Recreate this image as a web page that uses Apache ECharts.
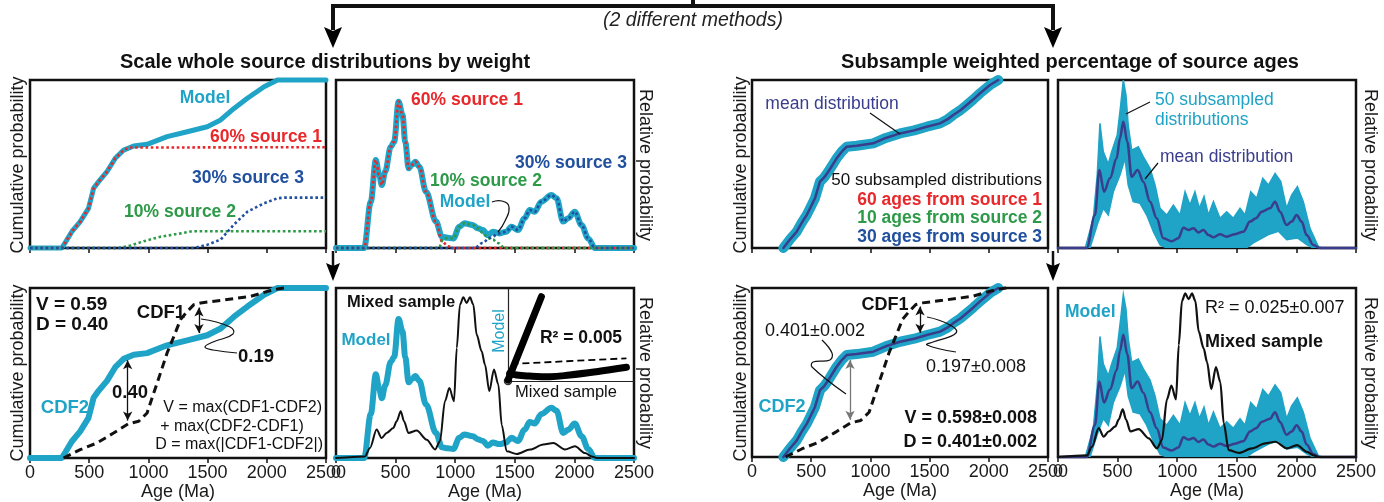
<!DOCTYPE html>
<html>
<head>
<meta charset="utf-8">
<script src="https://cdn.jsdelivr.net/npm/echarts@6/dist/echarts.min.js"></script>
<style>
html,body{margin:0;padding:0;background:#fff;}
#c{width:1384px;height:502px;}
</style>
</head>
<body>
<div id="c"></div>
<script>
// ---------------- DATA ----------------
const ageTicks = [0, 500, 1000, 1500, 2000, 2500];

// Cumulative distribution of the weighted model (CDF2)
const modelCdf = [[0,0],[268,0],[300,0.035],[353,0.097],[424,0.157],[494,0.236],[537,0.355],[579,0.395],[650,0.454],[720,0.534],[791,0.583],[876,0.607],[989,0.617],[1158,0.663],[1328,0.692],[1497,0.722],[1610,0.762],[1723,0.831],[1836,0.891],[1977,0.96],[2090,1],[2500,1]];
// Weighted source CDFs
const source1Cdf = [[0,0],[268,0],[300,0.035],[353,0.097],[424,0.157],[494,0.236],[537,0.355],[579,0.395],[650,0.454],[720,0.534],[791,0.583],[840,0.598],[2500,0.6]];
const source2Cdf = [[0,0],[748,0],[850,0.015],[960,0.04],[1102,0.067],[1271,0.087],[1370,0.1],[2500,0.1]];
const source3Cdf = [[0,0],[1384,0],[1500,0.02],[1610,0.05],[1723,0.14],[1836,0.216],[1977,0.266],[2090,0.296],[2150,0.3],[2500,0.3]];

// Relative probability (PDP) of model and weighted sources
const modelPdp = [[0,0],[236,0],[292,0.276],[334,0.524],[362,0.434],[385,0.375],[412,0.454],[460,0.603],[488,0.633],[525,0.871],[558,0.792],[581,0.633],[609,0.474],[637,0.494],[665,0.514],[699,0.484],[755,0.335],[839,0.157],[889,0.067],[937,0.061],[985,0.057],[1035,0.127],[1077,0.147],[1147,0.137],[1189,0.117],[1232,0.107],[1274,0.077],[1316,0.097],[1372,0.087],[1428,0.097],[1471,0.127],[1527,0.107],[1582,0.177],[1625,0.226],[1667,0.216],[1723,0.276],[1807,0.315],[1850,0.296],[1906,0.157],[1948,0.177],[2003,0.216],[2060,0.137],[2116,0.057],[2172,0],[2500,0]];
const source1Pdp = [[0,0],[236,0],[292,0.276],[334,0.524],[362,0.434],[385,0.375],[412,0.454],[460,0.603],[488,0.633],[525,0.871],[558,0.792],[581,0.633],[609,0.474],[637,0.494],[665,0.514],[699,0.484],[755,0.335],[839,0.157],[889,0.04],[940,0.01],[985,0],[2500,0]];
const source2Pdp = [[0,0],[860,0],[900,0.05],[937,0.061],[985,0.057],[1035,0.127],[1077,0.147],[1147,0.137],[1189,0.117],[1232,0.09],[1274,0.06],[1316,0.05],[1358,0.03],[1414,0],[2500,0]];
const source3Pdp = [[0,0],[1161,0],[1230,0.03],[1290,0.06],[1372,0.087],[1428,0.097],[1471,0.127],[1527,0.107],[1582,0.177],[1625,0.226],[1667,0.216],[1723,0.276],[1807,0.315],[1850,0.296],[1906,0.157],[1948,0.177],[2003,0.216],[2060,0.137],[2116,0.057],[2172,0],[2500,0]];

// Mixed sample (CDF1 and PDP)
const mixedCdf = [[283,0],[424,0.049],[565,0.088],[706,0.147],[833,0.202],[918,0.216],[989,0.265],[1045,0.382],[1102,0.5],[1158,0.618],[1215,0.715],[1271,0.814],[1328,0.862],[1384,0.902],[1441,0.912],[1610,0.927],[1864,0.951],[2005,0.98],[2090,0.994],[2147,1]];
const mixedPdp = [[0,0],[243,0.01],[285,0.063],[341,0.178],[383,0.125],[425,0.157],[481,0.188],[509,0.23],[543,0.293],[571,0.23],[607,0.157],[677,0.172],[761,0.115],[831,0.053],[872,0.105],[914,0.355],[951,0.439],[990,0.355],[1013,0.689],[1040,0.961],[1068,1.007],[1096,0.971],[1124,1.007],[1152,0.961],[1180,0.773],[1222,0.668],[1250,0.585],[1286,0.418],[1325,0.554],[1362,0.46],[1390,0.209],[1432,0.042],[1516,0.025],[1628,0.053],[1739,0.084],[1823,0.094],[1921,0.053],[2005,0.073],[2089,0.031],[2145,0.01],[2187,0],[2500,0]];

// Subsampled distributions: mean CDF, mean PDP and envelope of the 50 subsampled PDPs
const meanCdf = [[265,0],[320,0.05],[377,0.097],[420,0.15],[462,0.196],[500,0.25],[532,0.296],[574,0.395],[610,0.42],[644,0.454],[715,0.534],[760,0.575],[800,0.603],[884,0.609],[1024,0.623],[1130,0.655],[1250,0.682],[1370,0.7],[1476,0.722],[1588,0.742],[1650,0.765],[1700,0.792],[1760,0.82],[1813,0.851],[1870,0.885],[1926,0.921],[2010,0.97],[2080,1]];
const meanPdp = [[0,0],[241,0],[310,0.196],[347,0.464],[386,0.335],[436,0.415],[492,0.534],[520,0.653],[548,0.752],[581,0.633],[618,0.424],[668,0.464],[716,0.395],[772,0.276],[828,0.177],[884,0.058],[954,0.04],[1010,0.058],[1052,0.121],[1094,0.107],[1136,0.117],[1178,0.093],[1220,0.107],[1262,0.077],[1304,0.064],[1359,0.082],[1415,0.067],[1485,0.082],[1555,0.097],[1611,0.157],[1661,0.177],[1709,0.216],[1779,0.236],[1821,0.276],[1862,0.216],[1918,0.137],[1960,0.157],[2002,0.196],[2044,0.157],[2086,0.077],[2142,0.018],[2198,0],[2500,0]];
const pdpUpper = [[0,0],[229,0],[296,0.177],[329,0.434],[352,0.742],[380,0.573],[422,0.5],[450,0.573],[497,0.673],[526,0.851],[548,1.0],[570,0.911],[589,0.732],[618,0.583],[674,0.603],[716,0.543],[772,0.474],[814,0.375],[856,0.236],[912,0.196],[968,0.256],[1024,0.196],[1066,0.335],[1107,0.256],[1149,0.335],[1186,0.236],[1225,0.306],[1262,0.196],[1304,0.276],[1359,0.177],[1415,0.216],[1471,0.177],[1527,0.236],[1569,0.196],[1617,0.335],[1667,0.296],[1718,0.415],[1765,0.375],[1821,0.444],[1869,0.395],[1918,0.236],[1960,0.315],[2008,0.365],[2058,0.276],[2114,0.117],[2184,0.008],[2220,0],[2500,0]];
const pdpLower = [[0,0],[268,0],[338,0.157],[380,0.236],[422,0.196],[464,0.335],[520,0.434],[562,0.534],[589,0.375],[631,0.276],[688,0.266],[744,0.196],[800,0.097],[856,0.018],[912,0],[1580,0],[1639,0.03],[1766,0.08],[1849,0.1],[1918,0.05],[2008,0.06],[2086,0.02],[2142,0],[2500,0]];

// Inset cross-plot (mixed sample vs model), in normalised inset units
const insetSteep = [[0,0.01],[0.265,0.916]];
const insetFlat = [[0.013,0.084],[0.067,0.065],[0.172,0.054],[0.331,0.047],[0.49,0.065],[0.701,0.101],[0.94,0.149]];
const insetFit = [[0.027,0.185],[0.94,0.247]];
const insetOrigin = [[0,0]];

// ---------------- STYLE ----------------
const FONT = "'Liberation Sans', Arial, Helvetica, sans-serif";
const TEAL = '#1fa3c6', INDIGO = '#393d8c', RED = '#e8282b', GREEN = '#2d9a48', BLUE = '#21509f', INK = '#111';

const grids = [
  {left:30, top:80, width:296, height:168},
  {left:336, top:80, width:298, height:168},
  {left:752, top:80, width:296, height:168},
  {left:1058, top:80, width:298, height:168},
  {left:30, top:288, width:296, height:170},
  {left:336, top:288, width:298, height:170},
  {left:752, top:288, width:296, height:169},
  {left:1058, top:288, width:298, height:169}
].map(g => Object.assign({show:true, borderColor:INK, borderWidth:2.5, backgroundColor:'transparent'}, g));
grids.push({left:508, top:289, width:126, height:92, show:false});

function xAx(gi, labels) {
  return {gridIndex:gi, type:'value', min:ageTicks[0], max:ageTicks[ageTicks.length-1], interval:ageTicks[1]-ageTicks[0],
    axisLine:{show:false}, splitLine:{show:false},
    axisTick:{show:true, inside:false, length:5, lineStyle:{color:INK, width:1.5}},
    axisLabel:{show:labels, fontSize:18, color:'#1a1a1a', margin:6, fontFamily:FONT, showMinLabel:true, showMaxLabel:true,
      formatter:function(v){ return String(v); }},
    name: labels ? 'Age (Ma)' : '', nameLocation:'middle', nameGap:21,
    nameTextStyle:{fontSize:18, color:'#1a1a1a', fontFamily:FONT}};
}
function yAx(gi, max) {
  return {gridIndex:gi, type:'value', min:0, max:max, axisLine:{show:false}, axisTick:{show:false},
    axisLabel:{show:false}, splitLine:{show:false}};
}
const xAxes = [0,1,2,3].map(i => xAx(i,false)).concat([4,5,6,7].map(i => xAx(i,true)));
xAxes.push({gridIndex:8, type:'value', min:0, max:1, axisLine:{show:true, onZero:false, lineStyle:{color:'#222', width:1.2}}, axisTick:{show:false}, axisLabel:{show:false}, splitLine:{show:false}});
const yAxes = [yAx(0,1), yAx(1,1), yAx(2,1), yAx(3,1), yAx(4,1), yAx(5,1.065), yAx(6,1), yAx(7,1.04)];
yAxes.push({gridIndex:8, type:'value', min:0, max:1, axisLine:{show:true, onZero:false, lineStyle:{color:'#222', width:1.2}}, axisTick:{show:false}, axisLabel:{show:false}, splitLine:{show:false}});

function line(gi, data, color, width, extra) {
  return Object.assign({type:'line', xAxisIndex:gi, yAxisIndex:gi, data:data, showSymbol:false, symbol:'none',
    clip:false, silent:true, animation:false,
    lineStyle:{color:color, width:width, cap:'round', join:'round'}}, extra||{});
}
function dotted(gi, data, color) {
  return line(gi, data, color, 2.6, {lineStyle:{color:color, width:2.6, type:[2.6,2.6], cap:'butt'}});
}
function band(gi) {
  return {type:'custom', xAxisIndex:gi, yAxisIndex:gi, data:[[0,0]], silent:true, animation:false, clip:true,
    renderItem:function(params, api){
      if (params.dataIndex > 0) return null;
      const pts = pdpUpper.map(p => api.coord(p)).concat(pdpLower.slice().reverse().map(p => api.coord(p)));
      return {type:'polygon', shape:{points:pts}, style:{fill:TEAL, stroke:TEAL, lineWidth:1.5}};
    }};
}
function arrows(pairs, color) {
  return {silent:true, animation:false, symbol:['arrow','arrow'], symbolSize:[7,9],
    lineStyle:{color:color, width:1.3, type:'solid'}, label:{show:false},
    data: pairs.map(p => [{coord:p[0]},{coord:p[1]}])};
}

const series = [
  // top-left: weighted CDFs
  line(0, modelCdf, TEAL, 5),
  dotted(0, source1Cdf, RED),
  dotted(0, source2Cdf, GREEN),
  dotted(0, source3Cdf, BLUE),
  // top 2: weighted PDPs
  line(1, modelPdp, TEAL, 6, {smooth:0.35, smoothMonotone:'x'}),
  line(1, source1Pdp, RED, 2.6, {smooth:0.35, smoothMonotone:'x', lineStyle:{color:RED, width:2.6, type:[2.6,2.6], cap:'butt'}}),
  line(1, source2Pdp, GREEN, 2.6, {smooth:0.35, smoothMonotone:'x', lineStyle:{color:GREEN, width:2.6, type:[2.6,2.6], cap:'butt'}}),
  line(1, source3Pdp, BLUE, 2.6, {smooth:0.35, smoothMonotone:'x', lineStyle:{color:BLUE, width:2.6, type:[2.6,2.6], cap:'butt'}}),
  // top 3: subsampled CDFs
  line(2, meanCdf, TEAL, 10),
  line(2, meanCdf, INDIGO, 2.5),
  // top 4: subsampled PDPs
  band(3),
  line(3, meanPdp, INDIGO, 2.5, {smooth:0.35, smoothMonotone:'x'}),
  // bottom 1: CDF comparison
  line(4, modelCdf, TEAL, 6),
  line(4, mixedCdf, INK, 3, {lineStyle:{color:INK, width:3, type:[8,5], cap:'butt'},
    markLine: arrows([[[825,0.575],[825,0.22]], [[1427,0.885],[1427,0.735]]], INK)}),
  // bottom 2: PDP comparison
  line(5, modelPdp, TEAL, 6, {smooth:0.35, smoothMonotone:'x'}),
  line(5, mixedPdp, INK, 2, {smooth:0.3, smoothMonotone:'x'}),
  // bottom 3: subsampled CDF comparison
  line(6, meanCdf, TEAL, 10),
  line(6, meanCdf, INDIGO, 2.5),
  line(6, mixedCdf, INK, 3, {lineStyle:{color:INK, width:3, type:[8,5], cap:'butt'},
    markLine: arrows([[[828,0.574],[828,0.22]]], '#777')}),
  line(6, [[1419,0.89],[1419,0.89]], 'transparent', 0, {markLine: arrows([[[1419,0.89],[1419,0.735]]], INK)}),
  // bottom 4: subsampled PDP comparison
  band(7),
  line(7, meanPdp, INDIGO, 2.5, {smooth:0.35, smoothMonotone:'x'}),
  line(7, mixedPdp, INK, 2.2, {smooth:0.3, smoothMonotone:'x'}),
  // inset cross-plot
  line(8, insetSteep, '#000', 7),
  line(8, insetFlat, '#000', 7, {smooth:0.4}),
  line(8, insetFit, '#000', 1.8, {lineStyle:{color:'#000', width:1.8, type:[7,4]}}),
  {type:'scatter', xAxisIndex:8, yAxisIndex:8, data:insetOrigin, symbolSize:7, silent:true, animation:false, clip:false,
    itemStyle:{color:'#fff', borderColor:'#000', borderWidth:1.5}}
];

// ---------------- ANNOTATIONS ----------------
function T(text, x, y, o) {
  o = o || {};
  return {type:'text', x:x, y:y, rotation:o.rot||0, z:100, silent:true,
    style:{text:text, fill:o.color||INK, fontSize:o.size||17, fontWeight:o.bold?'bold':'normal',
      fontStyle:o.italic?'italic':'normal', fontFamily:FONT, align:o.align||'center', verticalAlign:'middle'}};
}
function P(points, o) {
  o = o || {};
  return {type:'polyline', z:100, silent:true, shape:{points:points, smooth:o.smooth||0},
    style:{stroke:o.color||INK, lineWidth:o.width||1.2, fill:null}};
}
function G(points) {
  return {type:'polygon', z:100, silent:true, shape:{points:points}, style:{fill:'#000'}};
}
const R90 = Math.PI/2;
const graphics = [
  // bracket & arrows
  P([[333,30],[333,6],[1053,6],[1053,30]], {width:4}),
  P([[693,0],[693,6]], {width:4}),
  G([[324,27],[333,31],[342,27],[333,48]]),
  G([[1044,27],[1053,31],[1062,27],[1053,48]]),
  P([[333,251],[333,266]], {width:2.5}),
  G([[326,263],[333,266],[340,263],[333,281]]),
  P([[1053,251],[1053,266]], {width:2.5}),
  G([[1046,263],[1053,266],[1060,263],[1053,281]]),
  T('(2 different methods)', 693, 21, {size:19.5, italic:true, color:'#222'}),
  T('Scale whole source distributions by weight', 325, 62, {size:20, bold:true}),
  T('Subsample weighted percentage of source ages', 1070, 62, {size:20, bold:true}),
  // axis titles
  T('Cumulative probability', 18, 165, {size:18, rot:R90, color:'#1a1a1a'}),
  T('Cumulative probability', 18, 373, {size:18, rot:R90, color:'#1a1a1a'}),
  T('Cumulative probability', 741, 165, {size:18, rot:R90, color:'#1a1a1a'}),
  T('Cumulative probability', 741, 373, {size:18, rot:R90, color:'#1a1a1a'}),
  T('Relative probability', 645, 165, {size:18, rot:-R90, color:'#1a1a1a'}),
  T('Relative probability', 645, 373, {size:18, rot:-R90, color:'#1a1a1a'}),
  T('Relative probability', 1370, 165, {size:18, rot:-R90, color:'#1a1a1a'}),
  T('Relative probability', 1370, 373, {size:18, rot:-R90, color:'#1a1a1a'}),
  // panel 1 top
  T('Model', 205, 98, {bold:true, size:17.5, color:TEAL}),
  T('60% source 1', 266, 137, {bold:true, size:17.5, color:RED}),
  T('30% source 3', 248, 178, {bold:true, size:17.5, color:BLUE}),
  T('10% source 2', 180, 212, {bold:true, size:17.5, color:GREEN}),
  // panel 2 top
  T('60% source 1', 467, 100, {bold:true, size:17.5, color:RED}),
  T('10% source 2', 486, 181, {bold:true, size:17.5, color:GREEN}),
  T('30% source 3', 571, 163, {bold:true, size:17.5, color:BLUE}),
  T('Model', 465, 202, {bold:true, size:17.5, color:TEAL}),
  P([[492,202],[502,201],[509,207],[505,221],[498,232]], {smooth:0.5}),
  // panel 3 top
  T('mean distribution', 832, 104, {size:17.5, color:INDIGO}),
  P([[870,113],[900,134]], {width:1.2}),
  T('50 subsampled distributions', 1042, 180, {size:17, align:'right'}),
  T('60 ages from source 1', 1042, 200, {bold:true, size:17.5, color:RED, align:'right'}),
  T('10 ages from source 2', 1042, 218, {bold:true, size:17.5, color:GREEN, align:'right'}),
  T('30 ages from source 3', 1042, 237, {bold:true, size:17.5, color:BLUE, align:'right'}),
  // panel 4 top
  T('50 subsampled', 1155, 100, {size:17.5, color:TEAL, align:'left'}),
  T('distributions', 1155, 120, {size:17.5, color:TEAL, align:'left'}),
  P([[1150,102],[1126,114]], {width:1.2}),
  T('mean distribution', 1160, 157, {size:17.5, color:INDIGO, align:'left'}),
  P([[1158,163],[1145,179]], {width:1.2}),
  // bottom 1
  T('V = 0.59', 36, 305, {bold:true, size:19, align:'left'}),
  T('D = 0.40', 36, 325, {bold:true, size:19, align:'left'}),
  T('CDF1', 161, 313, {bold:true, size:18.5}),
  T('0.19', 256, 357, {bold:true, size:18.5}),
  P([[201,319],[230,327],[233,334],[213,342],[205,347],[213,350],[237,353]], {smooth:0.5}),
  T('0.40', 130, 393, {bold:true, size:18.5}),
  T('CDF2', 65, 408, {bold:true, size:18.5, color:TEAL}),
  T('V = max(CDF1-CDF2)', 322, 408, {size:16, align:'right'}),
  T('+ max(CDF2-CDF1)', 232, 427, {size:16}),
  T('D = max(|CDF1-CDF2|)', 323, 445, {size:16, align:'right'}),
  // bottom 2
  T('Mixed sample', 347, 302, {bold:true, size:16.5, align:'left'}),
  T('Model', 366, 340, {bold:true, size:17, color:TEAL}),
  T('Model', 500, 331, {size:16, color:TEAL, rot:R90}),
  T('R\u00B2 = 0.005', 581, 338, {bold:true, size:17.5}),
  T('Mixed sample', 566, 392, {size:16.5}),
  // bottom 3
  T('CDF1', 885, 305, {bold:true, size:18}),
  T('0.401\u00B10.002', 815, 331, {size:18}),
  P([[822,340],[832,353],[830,360],[813,362],[812,367],[846,394]], {smooth:0.4}),
  T('0.197\u00B10.008', 976, 367, {size:18}),
  P([[927,317],[950,325],[956,333],[933,342],[927,345],[956,352]], {smooth:0.5}),
  T('CDF2', 782, 407, {bold:true, size:18, color:TEAL}),
  T('V = 0.598\u00B10.008', 1037, 418, {bold:true, size:18, align:'right'}),
  T('D = 0.401\u00B10.002', 1037, 442, {bold:true, size:18, align:'right'}),
  // bottom 4
  T('Model', 1065, 312, {bold:true, size:17.5, color:TEAL, align:'left'}),
  T('R\u00B2 = 0.025\u00B10.007', 1205, 308, {size:18, align:'left'}),
  T('Mixed sample', 1205, 342, {bold:true, size:18, align:'left'})
];

const chart = echarts.init(document.getElementById('c'), null, {renderer:'canvas'});
chart.setOption({
  animation:false,
  backgroundColor:'#fff',
  textStyle:{fontFamily:FONT},
  grid:grids, xAxis:xAxes, yAxis:yAxes, series:series, graphic:graphics
});
</script>
</body>
</html>
